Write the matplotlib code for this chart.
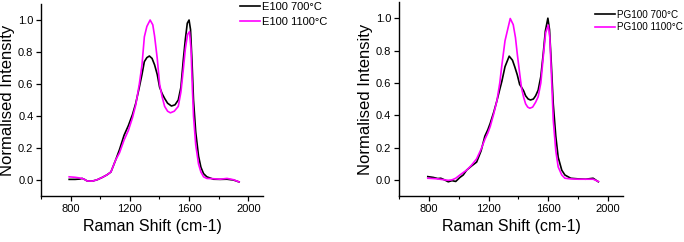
import numpy as np
from matplotlib import pyplot as plt
from matplotlib.ticker import MultipleLocator

plt.rcParams['font.family'] = ['Liberation Sans', 'DejaVu Sans']

# E100 spectra (Raman shift, normalised intensity)
e100_700_x = [790, 830, 860, 878, 895, 912, 946, 980, 1015, 1045, 1072, 1104, 1130, 1161,
              1190, 1218, 1240, 1264, 1282, 1298, 1315, 1332, 1350, 1367, 1385, 1401, 1418,
              1435, 1455, 1481, 1505, 1527, 1545, 1561, 1575, 1588, 1600, 1610, 1620, 1630,
              1645, 1664, 1680, 1698, 1720, 1765, 1810, 1856, 1900, 1938]
e100_700_y = [0.004, 0.004, 0.006, 0.01, 0.003, -0.006, -0.007, 0.002, 0.017, 0.032, 0.05, 0.125,
              0.19, 0.28, 0.34, 0.41, 0.48, 0.58, 0.66, 0.74, 0.765, 0.775, 0.76, 0.72, 0.66,
              0.58, 0.54, 0.51, 0.48, 0.4625, 0.47, 0.50, 0.58, 0.75, 0.88, 0.98, 1.0, 0.94,
              0.74, 0.50, 0.30, 0.15, 0.08, 0.04, 0.02, 0.005, 0.004, 0.005, 0.0, -0.012]
e100_1100_x = [790, 830, 860, 878, 895, 912, 946, 980, 1015, 1045, 1072, 1104, 1130, 1161,
               1190, 1218, 1240, 1264, 1282, 1298, 1315, 1337, 1355, 1367, 1385, 1401, 1418,
               1435, 1455, 1474, 1500, 1527, 1545, 1561, 1575, 1590, 1603, 1613, 1622, 1630,
               1645, 1664, 1680, 1698, 1720, 1765, 1810, 1856, 1900, 1938]
e100_1100_y = [0.02, 0.017, 0.013, 0.01, 0.003, -0.006, -0.007, 0.002, 0.017, 0.032, 0.05, 0.125,
               0.17, 0.25, 0.31, 0.39, 0.47, 0.60, 0.72, 0.895, 0.96, 1.0, 0.97, 0.90, 0.76,
               0.60, 0.52, 0.46, 0.43, 0.42, 0.43, 0.46, 0.55, 0.69, 0.82, 0.91, 0.927, 0.82,
               0.58, 0.40, 0.22, 0.10, 0.05, 0.02, 0.01, 0.008, 0.005, 0.01, 0.002, -0.012]

# PG100 spectra
pg100_700_x = [793, 830, 860, 880, 905, 930, 955, 980, 1008, 1030, 1053, 1085, 1120, 1150,
               1175, 1195, 1211, 1235, 1256, 1275, 1289, 1310, 1338, 1360, 1375, 1392, 1408,
               1421, 1435, 1448, 1465, 1481, 1500, 1515, 1532, 1550, 1566, 1580, 1597, 1608,
               1620, 1633, 1650, 1666, 1690, 1711, 1750, 1800, 1850, 1900, 1935]
pg100_700_y = [0.02, 0.015, 0.008, 0.01, 0.0, -0.012, -0.005, -0.01, 0.015, 0.03, 0.06, 0.085,
               0.11, 0.18, 0.27, 0.31, 0.35, 0.42, 0.49, 0.56, 0.61, 0.70, 0.765, 0.74, 0.70,
               0.65, 0.59, 0.572, 0.55, 0.52, 0.50, 0.494, 0.50, 0.52, 0.555, 0.64, 0.78, 0.92,
               1.0, 0.93, 0.72, 0.47, 0.27, 0.14, 0.06, 0.03, 0.01, 0.006, 0.004, 0.01, -0.012]
pg100_1100_x = [793, 830, 860, 880, 905, 930, 955, 980, 1008, 1030, 1053, 1085, 1120, 1150,
                1175, 1195, 1211, 1235, 1256, 1275, 1289, 1310, 1345, 1365, 1380, 1392, 1408,
                1421, 1435, 1448, 1462, 1476, 1495, 1515, 1532, 1550, 1566, 1582, 1600, 1610,
                1622, 1633, 1650, 1666, 1690, 1711, 1750, 1800, 1850, 1900, 1935]
pg100_1100_y = [0.01, 0.008, 0.006, 0.003, 0.0, -0.003, 0.0, 0.01, 0.03, 0.045, 0.06, 0.09,
                0.13, 0.19, 0.25, 0.29, 0.33, 0.41, 0.49, 0.60, 0.71, 0.86, 0.998, 0.96, 0.88,
                0.78, 0.66, 0.566, 0.51, 0.47, 0.45, 0.443, 0.45, 0.48, 0.514, 0.60, 0.76, 0.91,
                0.957, 0.88, 0.62, 0.37, 0.18, 0.08, 0.03, 0.01, 0.006, 0.004, 0.004, 0.004, -0.01]

labels_left = ['E100 700°C', 'E100 1100°C']
labels_right = ['PG100 700°C', 'PG100 1100°C']
colors = ['black', '#ff00ff']


def style_axes(ax):
    ax.set_xlim(600, 2100)
    ax.set_ylim(-0.1, 1.1)
    ax.set_xticks([800, 1200, 1600, 2000])
    ax.xaxis.set_minor_locator(MultipleLocator(200))
    ax.yaxis.set_major_locator(MultipleLocator(0.2))
    ax.spines['top'].set_visible(False)
    ax.spines['right'].set_visible(False)
    for s in ('left', 'bottom'):
        ax.spines[s].set_linewidth(1.0)
    ax.tick_params(which='major', direction='out', length=3.5, width=0.9, labelsize=8, pad=2)
    ax.tick_params(which='minor', direction='out', length=2, width=0.8)
    ax.set_xlabel('Raman Shift (cm-1)', fontsize=11.5, labelpad=4)
    ax.set_ylabel('Normalised Intensity', fontsize=12, labelpad=2)
    ax.yaxis.set_major_formatter(plt.FuncFormatter(lambda v, p: '%.1f' % v))


fig = plt.figure(figsize=(6.84, 2.42), dpi=100)

ax1 = fig.add_axes([0.060, 0.190, 0.3246, 0.7934])
ax1.plot(e100_700_x, e100_700_y, color=colors[0], lw=1.2, label=labels_left[0])
ax1.plot(e100_1100_x, e100_1100_y, color=colors[1], lw=1.2, label=labels_left[1])
style_axes(ax1)
ax1.legend(loc='upper left', bbox_to_anchor=(240 / 684, 1 - 2 / 242), bbox_transform=fig.transFigure,
           frameon=False, fontsize=8, handlelength=1.8, handletextpad=0.15,
           labelspacing=0.45, borderaxespad=0, borderpad=0)

ax2 = fig.add_axes([0.5833, 0.190, 0.3275, 0.8017])
ax2.plot(pg100_700_x, pg100_700_y, color=colors[0], lw=1.2, label=labels_right[0])
ax2.plot(pg100_1100_x, pg100_1100_y, color=colors[1], lw=1.2, label=labels_right[1])
style_axes(ax2)
ax2.legend(loc='upper left', bbox_to_anchor=(595 / 684, 1 - 9.5 / 242), bbox_transform=fig.transFigure,
           frameon=False, fontsize=7.1, handlelength=2.0, handletextpad=0.2,
           labelspacing=0.3, borderaxespad=0, borderpad=0)

plt.savefig('out.png', dpi=100)
